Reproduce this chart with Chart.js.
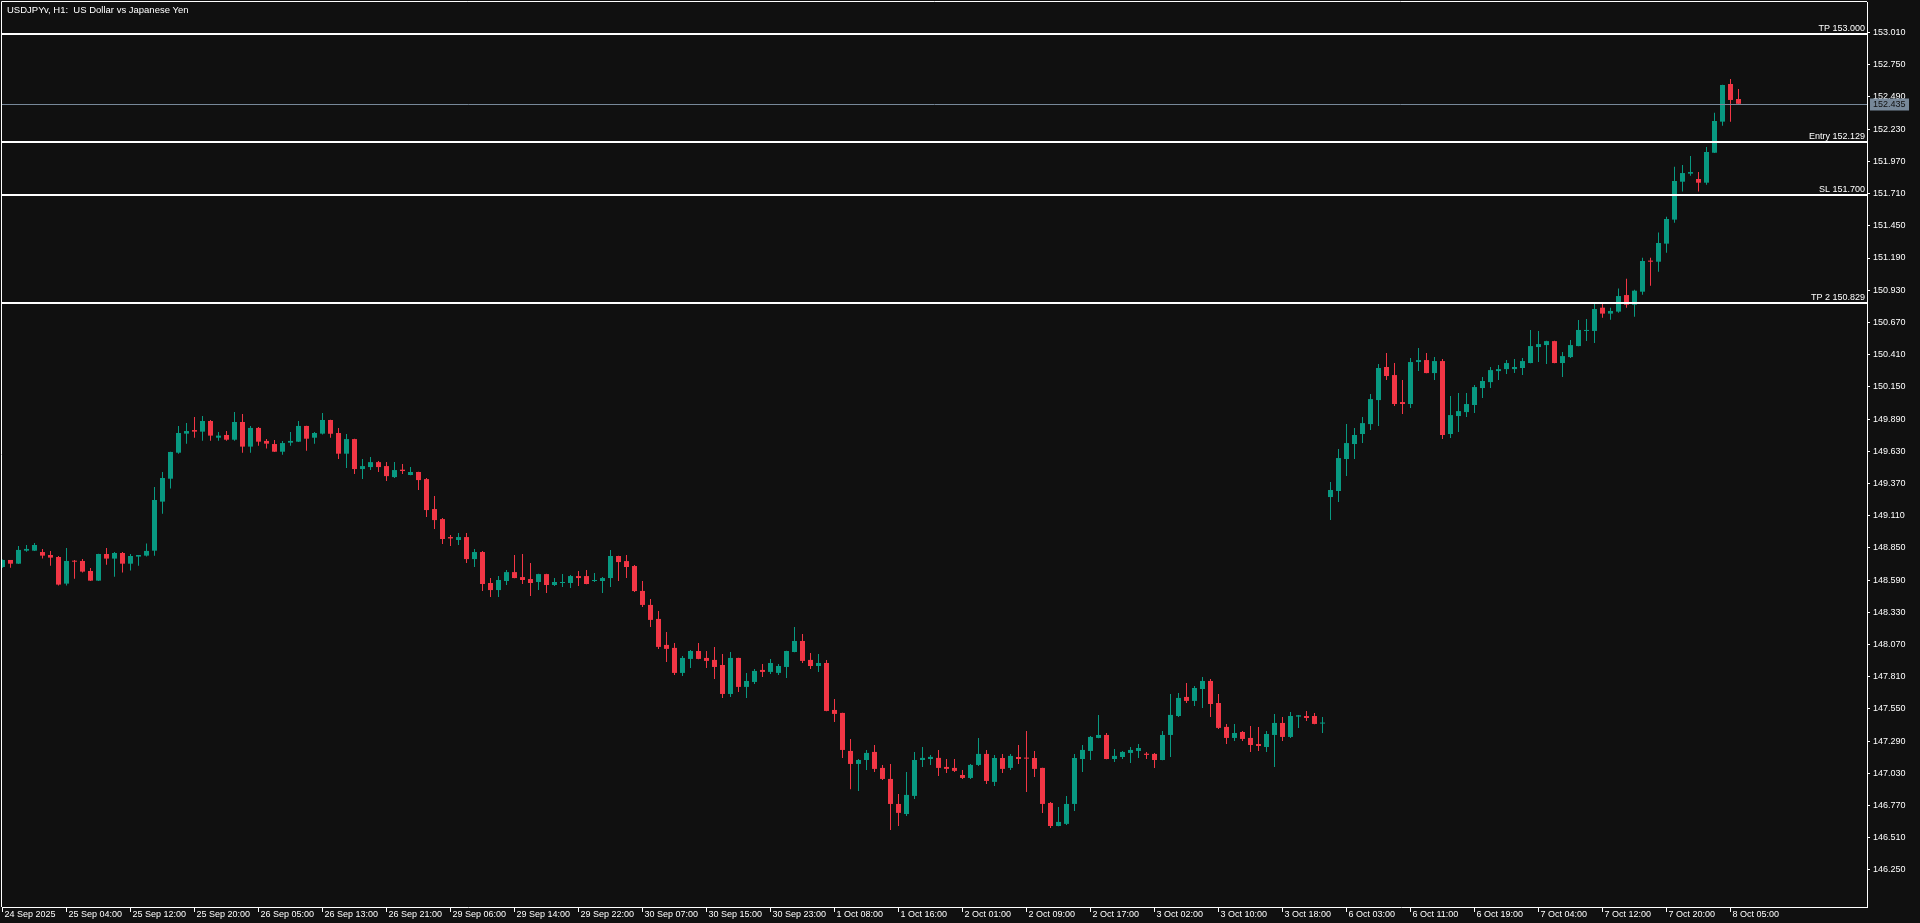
<!DOCTYPE html>
<html>
<head>
<meta charset="utf-8">
<script src="https://cdn.jsdelivr.net/npm/chart.js@4.4.1/dist/chart.umd.min.js"></script>
<style>
  html, body { margin: 0; padding: 0; background: #101010; overflow: hidden; }
  #wrap { width: 1920px; height: 923px; position: relative; }
</style>
</head>
<body>
<div id="wrap"><canvas id="chart"></canvas></div>
<script>
const symbolTitle = 'USDJPYv, H1:  US Dollar vs Japanese Yen';

// one label every 8 hourly bars
const xTickLabels = [
  '24 Sep 2025', '25 Sep 04:00', '25 Sep 12:00', '25 Sep 20:00', '26 Sep 05:00', '26 Sep 13:00',
  '26 Sep 21:00', '29 Sep 06:00', '29 Sep 14:00', '29 Sep 22:00', '30 Sep 07:00', '30 Sep 15:00',
  '30 Sep 23:00', '1 Oct 08:00', '1 Oct 16:00', '2 Oct 01:00', '2 Oct 09:00', '2 Oct 17:00',
  '3 Oct 02:00', '3 Oct 10:00', '3 Oct 18:00', '6 Oct 03:00', '6 Oct 11:00', '6 Oct 19:00',
  '7 Oct 04:00', '7 Oct 12:00', '7 Oct 20:00', '8 Oct 05:00'
];

const yTickValues = [
  153.010, 152.750, 152.490, 152.230, 151.970, 151.710, 151.450, 151.190, 150.930,
  150.670, 150.410, 150.150, 149.890, 149.630, 149.370, 149.110, 148.850, 148.590,
  148.330, 148.070, 147.810, 147.550, 147.290, 147.030, 146.770, 146.510, 146.250
];

const levelNames = ['TP', 'Entry', 'SL', 'TP 2'];
const levelValues = [153.000, 152.129, 151.700, 150.829];

const opens = [
  148.695, 148.752, 148.722, 148.827, 148.827, 148.816, 148.792, 148.776, 148.561, 148.746,
  148.744, 148.663, 148.585, 148.800, 148.763, 148.808, 148.722, 148.779, 148.787, 148.827,
  149.223, 149.408, 149.618, 149.772, 149.801, 149.788, 149.874, 149.739, 149.761, 149.723,
  149.866, 149.667, 149.818, 149.713, 149.688, 149.626, 149.699, 149.707, 149.834, 149.739,
  149.772, 149.882, 149.777, 149.610, 149.728, 149.486, 149.502, 149.542, 149.510, 149.421,
  149.481, 149.438, 149.462, 149.405, 149.163, 149.082, 148.937, 148.913, 148.937, 148.759,
  148.816, 148.566, 148.509, 148.582, 148.654, 148.614, 148.598, 148.574, 148.638, 148.550,
  148.566, 148.566, 148.622, 148.622, 148.582, 148.582, 148.606, 148.784, 148.743, 148.703,
  148.502, 148.389, 148.276, 148.066, 148.042, 147.840, 147.953, 148.017, 147.961, 147.945,
  147.904, 147.670, 147.961, 147.727, 147.767, 147.864, 147.848, 147.840, 147.888, 148.009,
  148.098, 147.945, 147.896, 147.920, 147.541, 147.517, 147.210, 147.105, 147.137, 147.202,
  147.073, 146.984, 146.782, 146.701, 146.847, 147.137, 147.145, 147.154, 147.081, 147.073,
  147.016, 146.992, 147.097, 147.186, 146.960, 147.153, 147.073, 147.161, 147.156, 147.153,
  147.073, 146.790, 146.604, 146.621, 146.782, 147.145, 147.210, 147.315, 147.339, 147.145,
  147.161, 147.194, 147.210, 147.188, 147.186, 147.137, 147.339, 147.492, 147.646, 147.614,
  147.710, 147.775, 147.597, 147.404, 147.315, 147.363, 147.315, 147.266, 147.242, 147.339,
  147.436, 147.323, 147.487, 147.492, 147.492, 147.431, 149.260, 149.309, 149.567, 149.688,
  149.769, 149.849, 150.043, 150.310, 150.245, 150.027, 150.011, 150.350, 150.366, 150.261,
  150.358, 149.769, 149.914, 149.946, 150.003, 150.140, 150.188, 150.277, 150.293, 150.293,
  150.302, 150.342, 150.471, 150.487, 150.519, 150.342, 150.390, 150.479, 150.601, 150.601,
  150.789, 150.741, 150.757, 150.891, 150.813, 150.918, 151.169, 151.160, 151.306, 151.500,
  151.806, 151.871, 151.828, 151.798, 152.040, 152.291, 152.595, 152.474
];

const highs = [
  148.755, 148.752, 148.865, 148.873, 148.889, 148.841, 148.825, 148.784, 148.849, 148.752,
  148.760, 148.687, 148.802, 148.849, 148.816, 148.816, 148.800, 148.793, 148.884, 149.341,
  149.462, 149.626, 149.834, 149.858, 149.906, 149.914, 149.882, 149.785, 149.793, 149.947,
  149.931, 149.834, 149.826, 149.729, 149.721, 149.713, 149.785, 149.874, 149.836, 149.785,
  149.939, 149.884, 149.817, 149.769, 149.730, 149.567, 149.583, 149.551, 149.542, 149.542,
  149.526, 149.502, 149.464, 149.413, 149.268, 149.090, 148.953, 148.969, 148.969, 148.840,
  148.824, 148.606, 148.622, 148.671, 148.792, 148.800, 148.727, 148.640, 148.640, 148.606,
  148.638, 148.630, 148.663, 148.671, 148.646, 148.614, 148.832, 148.786, 148.792, 148.711,
  148.582, 148.437, 148.340, 148.171, 148.082, 147.977, 148.025, 148.082, 148.017, 148.050,
  147.993, 148.009, 147.963, 147.840, 147.872, 147.912, 147.953, 147.912, 148.019, 148.211,
  148.155, 148.001, 147.993, 147.945, 147.630, 147.519, 147.307, 147.145, 147.218, 147.259,
  147.097, 147.105, 146.863, 147.041, 147.202, 147.242, 147.178, 147.218, 147.145, 147.145,
  147.057, 147.105, 147.315, 147.218, 147.178, 147.186, 147.186, 147.258, 147.371, 147.210,
  147.075, 146.798, 146.758, 146.847, 147.186, 147.258, 147.331, 147.501, 147.355, 147.226,
  147.210, 147.242, 147.266, 147.202, 147.194, 147.371, 147.670, 147.678, 147.759, 147.735,
  147.807, 147.791, 147.670, 147.428, 147.428, 147.371, 147.412, 147.404, 147.371, 147.509,
  147.484, 147.525, 147.501, 147.533, 147.517, 147.484, 149.381, 149.648, 149.849, 149.817,
  149.906, 150.092, 150.334, 150.423, 150.342, 150.205, 150.382, 150.463, 150.423, 150.390,
  150.374, 150.075, 150.100, 150.100, 150.164, 150.229, 150.310, 150.326, 150.366, 150.374,
  150.382, 150.608, 150.600, 150.521, 150.521, 150.431, 150.528, 150.689, 150.697, 150.827,
  150.821, 150.789, 150.943, 151.023, 150.934, 151.193, 151.193, 151.395, 151.524, 151.927,
  151.941, 152.014, 151.884, 152.086, 152.363, 152.589, 152.635, 152.554
];

const lows = [
  148.690, 148.690, 148.720, 148.819, 148.825, 148.763, 148.706, 148.545, 148.545, 148.601,
  148.650, 148.583, 148.583, 148.714, 148.617, 148.650, 148.666, 148.706, 148.779, 148.787,
  149.126, 149.328, 149.610, 149.691, 149.739, 149.715, 149.715, 149.715, 149.715, 149.715,
  149.618, 149.618, 149.675, 149.651, 149.624, 149.602, 149.675, 149.705, 149.634, 149.691,
  149.764, 149.739, 149.567, 149.494, 149.446, 149.405, 149.478, 149.462, 149.389, 149.413,
  149.446, 149.436, 149.316, 149.098, 149.002, 148.880, 148.864, 148.872, 148.727, 148.695,
  148.501, 148.453, 148.453, 148.550, 148.604, 148.558, 148.461, 148.509, 148.485, 148.541,
  148.533, 148.525, 148.541, 148.556, 148.574, 148.485, 148.533, 148.582, 148.606, 148.493,
  148.373, 148.211, 148.034, 147.929, 147.824, 147.816, 147.880, 147.951, 147.880, 147.791,
  147.638, 147.646, 147.686, 147.638, 147.751, 147.807, 147.832, 147.824, 147.799, 148.007,
  147.920, 147.872, 147.848, 147.531, 147.444, 147.154, 146.900, 146.887, 147.057, 147.041,
  146.976, 146.572, 146.605, 146.685, 146.823, 147.081, 147.097, 147.008, 147.032, 147.041,
  146.984, 146.984, 147.089, 146.943, 146.927, 147.032, 147.057, 147.105, 146.879, 147.000,
  146.709, 146.588, 146.602, 146.613, 146.726, 147.040, 147.137, 147.313, 147.143, 147.121,
  147.145, 147.113, 147.153, 147.145, 147.073, 147.135, 147.161, 147.484, 147.597, 147.573,
  147.557, 147.484, 147.388, 147.266, 147.291, 147.291, 147.202, 147.210, 147.202, 147.081,
  147.291, 147.315, 147.396, 147.452, 147.426, 147.355, 149.074, 149.220, 149.430, 149.567,
  149.696, 149.801, 149.833, 150.205, 149.995, 149.930, 149.979, 150.277, 150.259, 150.205,
  149.728, 149.736, 149.785, 149.906, 149.938, 150.059, 150.140, 150.205, 150.253, 150.261,
  150.245, 150.340, 150.350, 150.334, 150.340, 150.229, 150.382, 150.477, 150.520, 150.504,
  150.708, 150.692, 150.749, 150.789, 150.716, 150.894, 150.967, 151.080, 151.233, 151.475,
  151.726, 151.855, 151.726, 151.782, 152.038, 152.258, 152.291, 152.433
];

const closes = [
  148.752, 148.722, 148.833, 148.841, 148.873, 148.787, 148.771, 148.553, 148.744, 148.738,
  148.658, 148.585, 148.800, 148.763, 148.808, 148.722, 148.784, 148.792, 148.825, 149.236,
  149.414, 149.624, 149.777, 149.793, 149.788, 149.874, 149.756, 149.756, 149.723, 149.866,
  149.667, 149.818, 149.707, 149.691, 149.626, 149.696, 149.713, 149.834, 149.731, 149.777,
  149.882, 149.771, 149.610, 149.728, 149.486, 149.510, 149.542, 149.502, 149.429, 149.478,
  149.470, 149.462, 149.397, 149.155, 149.074, 148.921, 148.926, 148.937, 148.759, 148.816,
  148.558, 148.509, 148.590, 148.654, 148.606, 148.590, 148.566, 148.638, 148.550, 148.574,
  148.574, 148.622, 148.606, 148.558, 148.590, 148.606, 148.784, 148.735, 148.695, 148.501,
  148.389, 148.268, 148.050, 148.034, 147.840, 147.961, 148.017, 147.953, 147.937, 147.888,
  147.670, 147.961, 147.727, 147.775, 147.856, 147.848, 147.920, 147.896, 148.017, 148.098,
  147.937, 147.896, 147.920, 147.533, 147.509, 147.218, 147.105, 147.137, 147.194, 147.065,
  146.984, 146.782, 146.710, 146.855, 147.137, 147.154, 147.162, 147.073, 147.065, 147.049,
  146.992, 147.097, 147.186, 146.968, 147.153, 147.065, 147.170, 147.145, 147.148, 147.065,
  146.782, 146.604, 146.637, 146.782, 147.153, 147.218, 147.323, 147.339, 147.145, 147.170,
  147.202, 147.218, 147.234, 147.178, 147.137, 147.339, 147.501, 147.638, 147.614, 147.718,
  147.775, 147.589, 147.396, 147.315, 147.355, 147.307, 147.258, 147.250, 147.347, 147.436,
  147.323, 147.492, 147.498, 147.476, 147.428, 147.436, 149.317, 149.575, 149.696, 149.761,
  149.857, 150.051, 150.302, 150.237, 150.011, 150.011, 150.350, 150.366, 150.261, 150.358,
  149.761, 149.922, 149.954, 150.011, 150.148, 150.197, 150.285, 150.293, 150.342, 150.310,
  150.358, 150.479, 150.495, 150.519, 150.342, 150.398, 150.487, 150.609, 150.609, 150.778,
  150.741, 150.762, 150.883, 150.813, 150.926, 151.166, 151.160, 151.311, 151.505, 151.812,
  151.876, 151.884, 151.798, 152.046, 152.296, 152.587, 152.466, 152.435
];

const upColor = '#089981';
const downColor = '#f23645';
const textFont = '9px "Liberation Sans"';
const titleFont = '9.5px "Liberation Sans"';

const candleColors = opens.map((o, i) => closes[i] >= o ? upColor : downColor);
const bodyData = opens.map((o, i) => ({ x: i, y: [Math.min(o, closes[i]), Math.max(o, closes[i])] }));
const wickData = lows.map((l, i) => ({ x: i, y: [l, highs[i]] }));

// background, frame, trade levels, bid line and title
const overlay = {
    id: 'overlay',
    beforeDraw(chart) {
        const ctx = chart.ctx;
        ctx.save();
        ctx.fillStyle = '#101010';
        ctx.fillRect(0, 0, chart.width, chart.height);
        ctx.restore();
    },
    afterDraw(chart) {
        const { ctx, chartArea: a } = chart;
        const y = chart.scales.y;
        ctx.save();

        ctx.strokeStyle = '#ffffff';
        ctx.lineWidth = 1;
        ctx.beginPath();
        ctx.moveTo(a.left - 0.5, a.bottom);
        ctx.lineTo(a.left - 0.5, a.top - 0.5);
        ctx.lineTo(a.right, a.top - 0.5);
        ctx.stroke();

        ctx.font = textFont;
        levelValues.forEach((v, i) => {
            const py = Math.round(y.getPixelForValue(v));
            ctx.fillStyle = '#ffffff';
            ctx.fillRect(a.left, py - 1, a.right - a.left, 2);
            ctx.textAlign = 'right';
            ctx.textBaseline = 'alphabetic';
            ctx.fillText(levelNames[i] + ' ' + v.toFixed(3), a.right - 2, py - 3);
        });

        const bid = closes[closes.length - 1];
        const by = Math.round(y.getPixelForValue(bid)) + 0.5;
        ctx.strokeStyle = '#778899';
        ctx.beginPath();
        ctx.moveTo(a.left, by);
        ctx.lineTo(a.right, by);
        ctx.stroke();
        ctx.fillStyle = '#778899';
        ctx.fillRect(a.right + 3, by - 6, 39, 12);
        ctx.fillStyle = '#101010';
        ctx.textAlign = 'left';
        ctx.textBaseline = 'middle';
        ctx.fillText(bid.toFixed(3), a.right + 6, by + 0.5);

        ctx.fillStyle = '#ffffff';
        ctx.font = titleFont;
        ctx.textBaseline = 'alphabetic';
        ctx.fillText(symbolTitle, 7, 12.5);
        ctx.restore();
    }
};

Chart.defaults.font.family = '"Liberation Sans", Arial, sans-serif';
Chart.defaults.font.size = 9;

const ctx = document.getElementById('chart').getContext('2d');
const chart = new Chart(ctx, {
    type: 'bar',
    data: {
        datasets: [{
            label: 'body',
            data: bodyData,
            backgroundColor: candleColors,
            barThickness: 5,
            minBarLength: 1,
            borderWidth: 0,
            inflateAmount: 0,
            grouped: false,
            order: 0
        }, {
            label: 'wick',
            data: wickData,
            backgroundColor: candleColors,
            barThickness: 1,
            minBarLength: 1,
            borderWidth: 0,
            inflateAmount: 0,
            grouped: false,
            order: 1
        }]
    },
    options: {
        responsive: true,
        maintainAspectRatio: false,
        animation: false,
        layout: { padding: { left: 2, top: 2, right: 0, bottom: 0 } },
        plugins: {
            legend: { display: false },
            tooltip: { enabled: false },
            title: { display: false }
        },
        scales: {
            x: {
                type: 'linear',
                min: -0.0625,
                max: 233.0625,
                offset: false,
                grid: { display: true, offset: false, drawOnChartArea: false, drawTicks: true, tickLength: 5, color: '#ffffff' },
                border: { display: true, color: '#ffffff' },
                ticks: {
                    color: '#ffffff',
                    autoSkip: false,
                    maxRotation: 0,
                    minRotation: 0,
                    align: 'start',
                    labelOffset: 2,
                    padding: -3,
                    callback: (v) => xTickLabels[Math.round(v / 8)]
                },
                afterBuildTicks: (axis) => {
                    axis.ticks = xTickLabels.map((_, i) => ({ value: i * 8 }));
                },
                afterFit: (axis) => {
                    axis.height = 16;
                    axis.paddingLeft = 0;
                    axis.paddingRight = 0;
                }
            },
            y: {
                type: 'linear',
                position: 'right',
                min: 145.950,
                max: 153.257,
                beginAtZero: false,
                grid: { display: true, drawOnChartArea: false, drawTicks: true, tickLength: 3, color: '#ffffff' },
                border: { display: true, color: '#ffffff' },
                ticks: {
                    color: '#ffffff',
                    autoSkip: false,
                    padding: 3,
                    callback: (v) => v.toFixed(3)
                },
                afterBuildTicks: (axis) => {
                    axis.ticks = yTickValues.map(v => ({ value: v }));
                },
                afterFit: (axis) => {
                    axis.width = 53;
                    axis.paddingTop = 0;
                    axis.paddingBottom = 0;
                }
            }
        }
    },
    plugins: [overlay]
});
</script>
</body>
</html>
